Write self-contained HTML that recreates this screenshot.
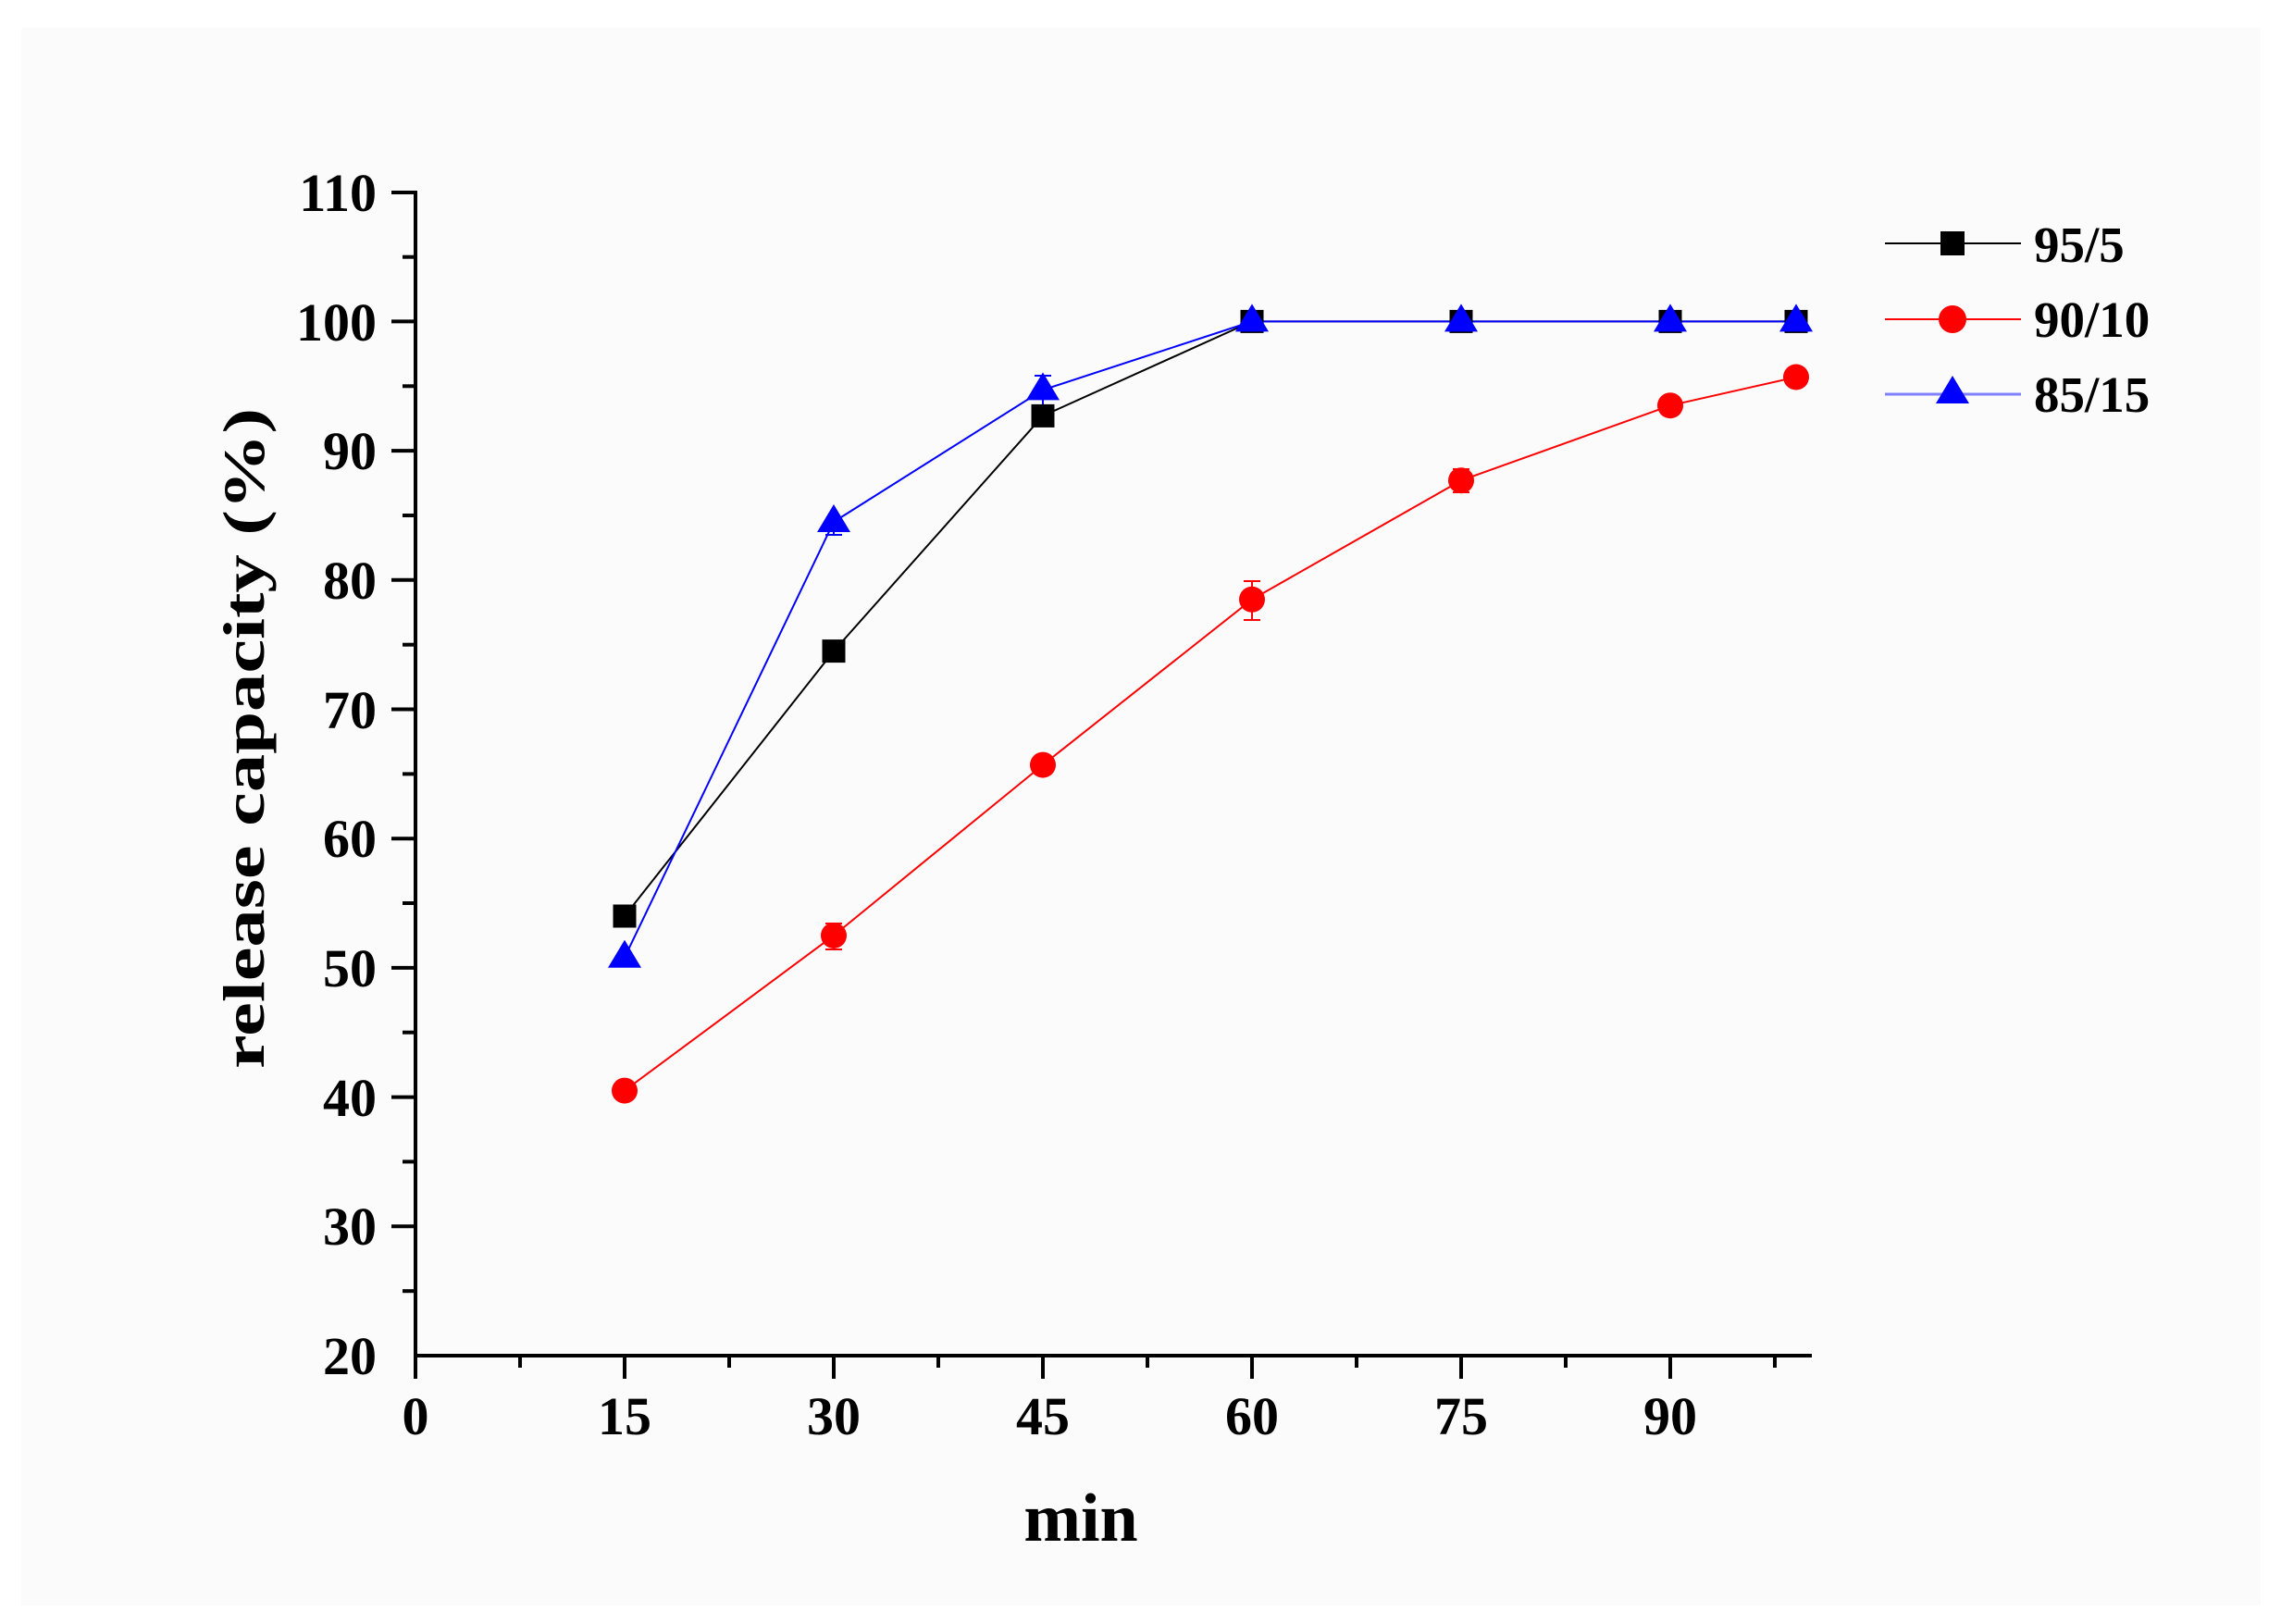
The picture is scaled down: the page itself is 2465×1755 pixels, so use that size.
<!DOCTYPE html>
<html><head><meta charset="utf-8"><style>
html,body{margin:0;padding:0;background:#fff;}
svg{display:block;}
text{font-family:"Liberation Serif",serif;font-weight:bold;fill:#000;}
</style></head><body>
<svg width="2465" height="1755" viewBox="0 0 2465 1755" xmlns="http://www.w3.org/2000/svg">
<rect x="0" y="0" width="2465" height="1755" fill="#fff"/>
<rect x="23" y="30" width="2420" height="1705" fill="#fbfbfc"/>

<g stroke="#000" stroke-width="4" fill="none">
<line x1="449" y1="206" x2="449" y2="1467"/>
<line x1="447" y1="1465" x2="1958" y2="1465"/>
<line x1="423" y1="208" x2="449" y2="208"/>
<line x1="423" y1="347.4" x2="449" y2="347.4"/>
<line x1="423" y1="487.1" x2="449" y2="487.1"/>
<line x1="423" y1="626.8" x2="449" y2="626.8"/>
<line x1="423" y1="766.5" x2="449" y2="766.5"/>
<line x1="423" y1="906.2" x2="449" y2="906.2"/>
<line x1="423" y1="1045.9" x2="449" y2="1045.9"/>
<line x1="423" y1="1185.6" x2="449" y2="1185.6"/>
<line x1="423" y1="1325.3" x2="449" y2="1325.3"/>
<line x1="435" y1="277.7" x2="449" y2="277.7"/>
<line x1="435" y1="417.3" x2="449" y2="417.3"/>
<line x1="435" y1="557" x2="449" y2="557"/>
<line x1="435" y1="696.7" x2="449" y2="696.7"/>
<line x1="435" y1="836.4" x2="449" y2="836.4"/>
<line x1="435" y1="976" x2="449" y2="976"/>
<line x1="435" y1="1115.7" x2="449" y2="1115.7"/>
<line x1="435" y1="1255.4" x2="449" y2="1255.4"/>
<line x1="435" y1="1395.2" x2="449" y2="1395.2"/>
<line x1="449" y1="1465" x2="449" y2="1490"/>
<line x1="675" y1="1465" x2="675" y2="1490"/>
<line x1="901" y1="1465" x2="901" y2="1490"/>
<line x1="1127" y1="1465" x2="1127" y2="1490"/>
<line x1="1353" y1="1465" x2="1353" y2="1490"/>
<line x1="1579" y1="1465" x2="1579" y2="1490"/>
<line x1="1805" y1="1465" x2="1805" y2="1490"/>
<line x1="562" y1="1465" x2="562" y2="1478"/>
<line x1="788" y1="1465" x2="788" y2="1478"/>
<line x1="1014" y1="1465" x2="1014" y2="1478"/>
<line x1="1240" y1="1465" x2="1240" y2="1478"/>
<line x1="1466" y1="1465" x2="1466" y2="1478"/>
<line x1="1692" y1="1465" x2="1692" y2="1478"/>
<line x1="1918" y1="1465" x2="1918" y2="1478"/>
</g>

<g font-size="58" text-anchor="end">
<text x="407" y="228">110</text>
<text x="407" y="368">100</text>
<text x="407" y="507">90</text>
<text x="407" y="647">80</text>
<text x="407" y="787">70</text>
<text x="407" y="926">60</text>
<text x="407" y="1066">50</text>
<text x="407" y="1206">40</text>
<text x="407" y="1345">30</text>
<text x="407" y="1485">20</text>
</g>
<g font-size="58" text-anchor="middle">
<text x="449" y="1550">0</text>
<text x="675" y="1550">15</text>
<text x="901" y="1550">30</text>
<text x="1127" y="1550">45</text>
<text x="1353" y="1550">60</text>
<text x="1579" y="1550">75</text>
<text x="1805" y="1550">90</text>
</g>
<text x="1168" y="1665" font-size="74" text-anchor="middle">min</text>
<text transform="translate(285,798) rotate(-90)" font-size="64" text-anchor="middle" textLength="714" lengthAdjust="spacingAndGlyphs">release capacity (%)</text>

<polyline fill="none" stroke="#000" stroke-width="2" points="675,990 901,703.6 1127,449.4 1353,347.4 1579,347.4 1805,347.4 1941,347.4"/>
<polyline fill="none" stroke="#ff0000" stroke-width="2" points="675,1178.6 901,1011 1127,826.6 1353,647.8 1579,519.2 1805,438.2 1941,407.5"/>
<polyline fill="none" stroke="#0000ff" stroke-width="2" points="675,1034.7 901,564 1127,421.4 1353,347.4 1579,347.4 1805,347.4 1941,347.4"/>

<g stroke="#ff0000" stroke-width="2">
<line x1="1353" y1="628" x2="1353" y2="670"/><line x1="1344" y1="628" x2="1362" y2="628"/><line x1="1344" y1="670" x2="1362" y2="670"/>
<line x1="901" y1="998" x2="901" y2="1026"/><line x1="892" y1="998" x2="910" y2="998"/><line x1="892" y1="1026" x2="910" y2="1026"/>
<line x1="1579" y1="507" x2="1579" y2="532"/><line x1="1570" y1="507" x2="1588" y2="507"/><line x1="1570" y1="532" x2="1588" y2="532"/>
</g>
<g stroke="#0000ff" stroke-width="2">
<line x1="1127" y1="406" x2="1127" y2="437"/><line x1="1118" y1="406" x2="1136" y2="406"/>
<line x1="901" y1="552" x2="901" y2="578"/><line x1="892" y1="578" x2="910" y2="578"/>
</g>

<g fill="#000">
<rect x="662.5" y="977.5" width="25" height="25"/>
<rect x="888.5" y="691.1" width="25" height="25"/>
<rect x="1114.5" y="436.9" width="25" height="25"/>
<rect x="1340.5" y="334.9" width="25" height="25"/>
<rect x="1566.5" y="334.9" width="25" height="25"/>
<rect x="1792.5" y="334.9" width="25" height="25"/>
<rect x="1928.5" y="334.9" width="25" height="25"/>
</g>
<g fill="#ff0000">
<circle cx="675" cy="1178.6" r="14"/>
<circle cx="901" cy="1011" r="14"/>
<circle cx="1127" cy="826.6" r="14"/>
<circle cx="1353" cy="647.8" r="14"/>
<circle cx="1579" cy="519.2" r="14"/>
<circle cx="1805" cy="438.2" r="14"/>
<circle cx="1941" cy="407.5" r="14"/>
</g>
<g fill="#0000ff">
<polygon points="675,1015.7 693,1045.7 657,1045.7"/>
<polygon points="901,545 919,575 883,575"/>
<polygon points="1127,402.4 1145,432.4 1109,432.4"/>
<polygon points="1353,328.4 1371,358.4 1335,358.4"/>
<polygon points="1579,328.4 1597,358.4 1561,358.4"/>
<polygon points="1805,328.4 1823,358.4 1787,358.4"/>
<polygon points="1941,328.4 1959,358.4 1923,358.4"/>
</g>

<line x1="2037" y1="263" x2="2184" y2="263" stroke="#000" stroke-width="2"/>
<rect x="2097" y="250" width="26" height="26" fill="#000"/>
<line x1="2037" y1="345" x2="2184" y2="345" stroke="#ff0000" stroke-width="2"/>
<circle cx="2110" cy="345" r="15" fill="#ff0000"/>
<line x1="2037" y1="426" x2="2184" y2="426" stroke="#8080ff" stroke-width="3"/>
<polygon points="2110,406 2128,436 2092,436" fill="#0000ff"/>
<g font-size="55">
<text x="2198" y="283">95/5</text>
<text x="2198" y="364">90/10</text>
<text x="2198" y="445">85/15</text>
</g>
</svg>
</body></html>
